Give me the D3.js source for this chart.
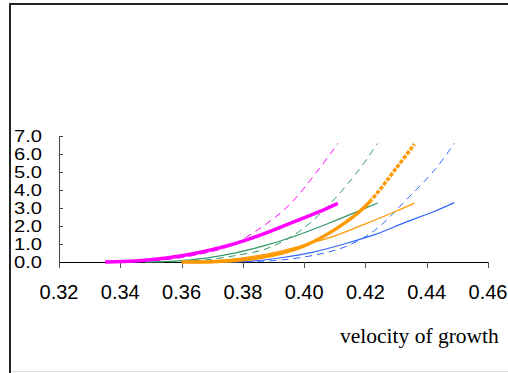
<!DOCTYPE html>
<html>
<head>
<meta charset="utf-8">
<style>
  body { margin: 0; background: #fff; }
  svg { display: block; }
</style>
</head>
<body>
<svg width="508" height="373" viewBox="0 0 508 373"></svg>
<script src="https://d3js.org/d3.v7.min.js"></script>
<script>
// velocity values (x) and curve values (y)
const magentaX = [0.335, 0.345, 0.355, 0.365, 0.375, 0.385, 0.395, 0.405, 0.411];
const magentaSolid = [0, 0.05, 0.22, 0.5, 0.9, 1.45, 2.12, 2.8, 3.26];
const magentaDash = [0, 0.02, 0.13, 0.4, 0.85, 1.8, 3.15, 5.2, 6.6];

const greenX = [0.348, 0.358, 0.368, 0.378, 0.388, 0.398, 0.408, 0.418, 0.424];
const greenSolid = [0, 0.05, 0.22, 0.52, 0.95, 1.5, 2.15, 2.85, 3.28];
const greenDash = [0, 0.02, 0.12, 0.37, 0.76, 1.65, 3.15, 5.15, 6.6];

const orangeX = [0.360, 0.370, 0.380, 0.390, 0.400, 0.410, 0.420, 0.430, 0.436];
const orangeSolid = [0, 0.05, 0.23, 0.52, 0.95, 1.45, 2.12, 2.82, 3.27];
const orangeThick = [0, 0.02, 0.13, 0.39, 0.9, 1.8, 3.1, 5.2, 6.55];

const blueX = [0.373, 0.383, 0.393, 0.403, 0.413, 0.423, 0.433, 0.443, 0.449];
const blueSolid = [0, 0.05, 0.25, 0.55, 1.0, 1.52, 2.2, 2.85, 3.3];
const blueDash = [0, 0.02, 0.12, 0.37, 0.82, 1.75, 3.4, 5.2, 6.6];

const xTicks = [0.32, 0.34, 0.36, 0.38, 0.40, 0.42, 0.44, 0.46];
const yTicks = [0, 1, 2, 3, 4, 5, 6, 7];

const svg = d3.select('svg');

const x = d3.scaleLinear().domain([0.32, 0.46]).range([59, 488]);
const y = d3.scaleLinear().domain([0, 7]).range([262, 136]);

// outer frame
svg.append('line').attr('x1', 10).attr('x2', 508).attr('y1', 4).attr('y2', 4)
  .attr('stroke', '#222').attr('stroke-width', 2);
svg.append('line').attr('x1', 10).attr('x2', 10).attr('y1', 3).attr('y2', 373)
  .attr('stroke', '#222').attr('stroke-width', 2);
svg.append('line').attr('x1', 11).attr('x2', 508).attr('y1', 371.5).attr('y2', 371.5)
  .attr('stroke', '#ddd').attr('stroke-width', 1);

// y axis
svg.append('line').attr('x1', 59.5).attr('x2', 59.5).attr('y1', y(7)).attr('y2', y(0))
  .attr('stroke', '#444');
svg.selectAll('.ytick').data(yTicks).join('line')
  .attr('class', 'ytick')
  .attr('x1', 59).attr('x2', 63)
  .attr('y1', d => Math.round(y(d)) + 0.5).attr('y2', d => Math.round(y(d)) + 0.5)
  .attr('stroke', '#444');
svg.selectAll('.ylab').data(yTicks).join('text')
  .attr('class', 'ylab')
  .attr('x', 42).attr('y', d => y(d))
  .attr('dy', '0.36em')
  .attr('text-anchor', 'end')
  .attr('font-family', 'Liberation Sans, Arial, sans-serif')
  .attr('font-size', '17px')
  .attr('textLength', 28)
  .attr('lengthAdjust', 'spacingAndGlyphs')
  .attr('fill', '#000')
  .text(d => d.toFixed(1));

// x axis
svg.append('line').attr('x1', x(0.32)).attr('x2', x(0.46)).attr('y1', 262.5).attr('y2', 262.5)
  .attr('stroke', '#000');
svg.selectAll('.xtick').data(xTicks).join('line')
  .attr('class', 'xtick')
  .attr('x1', d => Math.round(x(d)) + 0.5).attr('x2', d => Math.round(x(d)) + 0.5)
  .attr('y1', 262).attr('y2', 268)
  .attr('stroke', '#555');
svg.selectAll('.xlab').data(xTicks).join('text')
  .attr('class', 'xlab')
  .attr('x', d => x(d)).attr('y', 299)
  .attr('text-anchor', 'middle')
  .attr('font-family', 'Liberation Sans, Arial, sans-serif')
  .attr('font-size', '20px')
  .attr('fill', '#000')
  .text(d => d.toFixed(2));

svg.append('text')
  .attr('x', 340).attr('y', 343)
  .attr('font-family', 'Liberation Serif, Times New Roman, serif')
  .attr('font-size', '21.5px')
  .attr('fill', '#000')
  .text('velocity of growth');

// curves
const line = d3.line()
  .x(d => x(d[0]))
  .y(d => y(d[1]))
  .curve(d3.curveCatmullRom.alpha(0.5));

const zip = (xs, ys) => xs.map((v, i) => [v, ys[i]]);

const series = [
  { pts: zip(magentaX, magentaDash), color: '#ff00ff', width: 1, dash: '7,5' },
  { pts: zip(greenX, greenDash), color: '#339966', width: 1, dash: '7,5' },
  { pts: zip(blueX, blueDash), color: '#3366ff', width: 1, dash: '7,5' },
  { pts: zip(greenX, greenSolid), color: '#339966', width: 1.2, dash: null },
  { pts: zip(orangeX, orangeSolid), color: '#ff9900', width: 1.2, dash: null },
  { pts: zip(blueX, blueSolid), color: '#3366ff', width: 1.2, dash: null },
  { pts: zip(magentaX, magentaSolid), color: '#ff00ff', width: 3.5, dash: null }
];

svg.selectAll('.curve').data(series).join('path')
  .attr('class', 'curve')
  .attr('d', d => line(d.pts))
  .attr('fill', 'none')
  .attr('stroke', d => d.color)
  .attr('stroke-width', d => d.width)
  .attr('stroke-dasharray', d => d.dash);

// thick orange: solid in the lower part, dotted above
const split = x(0.422);
const defs = svg.append('defs');
defs.append('clipPath').attr('id', 'lowPart')
  .append('rect').attr('x', 0).attr('y', 0).attr('width', split).attr('height', 373);
defs.append('clipPath').attr('id', 'highPart')
  .append('rect').attr('x', split).attr('y', 0).attr('width', 508 - split).attr('height', 373);

const thick = zip(orangeX, orangeThick);
svg.append('path')
  .attr('d', line(thick))
  .attr('clip-path', 'url(#lowPart)')
  .attr('fill', 'none')
  .attr('stroke', '#ff9900')
  .attr('stroke-width', 3.5);
svg.append('path')
  .attr('d', line(thick))
  .attr('clip-path', 'url(#highPart)')
  .attr('fill', 'none')
  .attr('stroke', '#ff9900')
  .attr('stroke-width', 3.5)
  .attr('stroke-dasharray', '4,1.5');
</script>
</body>
</html>
